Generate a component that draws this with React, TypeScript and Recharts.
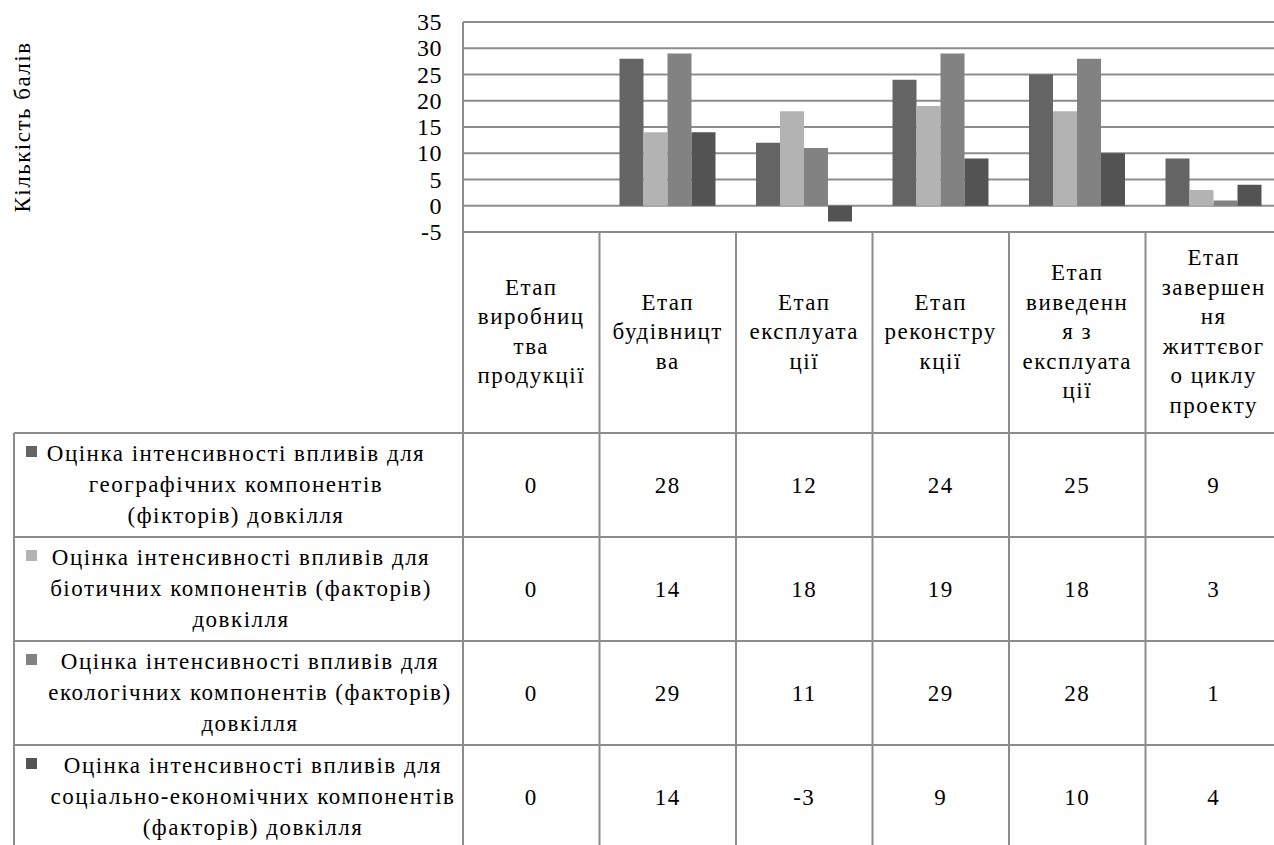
import { BarChart, Bar, XAxis, YAxis, CartesianGrid } from "recharts";

const categories = [
  "Етап виробництва продукції",
  "Етап будівництва",
  "Етап експлуатації",
  "Етап реконструкції",
  "Етап виведення з експлуатації",
  "Етап завершення життєвого циклу проекту",
];

// category names as they wrap in the table header
const categoryLines = [
  ["Етап", "виробниц", "тва", "продукції"],
  ["Етап", "будівницт", "ва"],
  ["Етап", "експлуата", "ції"],
  ["Етап", "реконстру", "кції"],
  ["Етап", "виведенн", "я з", "експлуата", "ції"],
  ["Етап", "завершен", "ня", "життєвог", "о циклу", "проекту"],
];

const geographic = [0, 28, 12, 24, 25, 9];
const biotic = [0, 14, 18, 19, 18, 3];
const ecological = [0, 29, 11, 29, 28, 1];
const socioEconomic = [0, 14, -3, 9, 10, 4];

const seriesKeys = ["geographic", "biotic", "ecological", "socio"];
const seriesValues = [geographic, biotic, ecological, socioEconomic];
const seriesColors = ["#646464", "#b3b3b3", "#828282", "#535353"];
const seriesLines = [
  ["Оцінка інтенсивності впливів для", "географічних компонентів", "(фікторів) довкілля"],
  ["Оцінка інтенсивності впливів для", "біотичних компонентів (факторів)", "довкілля"],
  ["Оцінка інтенсивності впливів для", "екологічних компонентів (факторів)", "довкілля"],
  ["Оцінка інтенсивності впливів для", "соціально-економічних компонентів", "(факторів) довкілля"],
];

const yTicks = [-5, 0, 5, 10, 15, 20, 25, 30, 35];

const data = categories.map((name, i) => ({
  name,
  geographic: geographic[i],
  biotic: biotic[i],
  ecological: ecological[i],
  socio: socioEconomic[i],
}));

const FONT = "Liberation Serif";
const txt = { fontFamily: FONT, fontSize: 23, letterSpacing: 1.5 };
const LINE = "#8c8c8c";
const CHART_W = 1290;
const AXIS_W = 463;
const MARGIN_R = 8;
const COL_W = (CHART_W - AXIS_W - MARGIN_R) / categories.length;
const HEADER_H = 201;
const ROW_H = 104;
const TABLE_LEFT = 14;
const rowCenters = [236, 241, 250, 253];

function TableColumn(props: any) {
  const { x, y, index } = props;
  const left = x - COL_W / 2;
  const lines = categoryLines[index] || [];
  const headerMid = y + HEADER_H / 2 - 1;
  const lh = 29.5;
  const rowsTop = y + HEADER_H;

  return (
    <g>
      <line x1={left} x2={left} y1={y} y2={y + 700} stroke={LINE} strokeWidth={2} />
      {index === categories.length - 1 && (
        <line x1={left + COL_W} x2={left + COL_W} y1={y} y2={y + 700} stroke={LINE} strokeWidth={2} />
      )}
      {lines.map((t, k) => (
        <text
          key={k}
          x={x}
          y={headerMid + (k - (lines.length - 1) / 2) * lh}
          textAnchor="middle"
          dominantBaseline="central"
          style={txt}
          fill="#000"
        >
          {t}
        </text>
      ))}
      {seriesValues.map((vals, r) => (
        <g key={r}>
          <line
            x1={left}
            x2={left + COL_W}
            y1={rowsTop + r * ROW_H}
            y2={rowsTop + r * ROW_H}
            stroke={LINE}
            strokeWidth={2}
          />
          <text
            x={x}
            y={rowsTop + r * ROW_H + ROW_H / 2}
            textAnchor="middle"
            dominantBaseline="central"
            style={txt}
            fill="#000"
          >
            {vals[index]}
          </text>
        </g>
      ))}
      {index === 0 && (
        <g>
          <line x1={TABLE_LEFT} x2={TABLE_LEFT} y1={rowsTop} y2={rowsTop + 500} stroke={LINE} strokeWidth={2} />
          {seriesLines.map((ls, r) => {
            const top = rowsTop + r * ROW_H;
            const mid = top + ROW_H / 2 - 1;
            const gap = 31;
            return (
              <g key={r}>
                <line x1={TABLE_LEFT} x2={left} y1={top} y2={top} stroke={LINE} strokeWidth={2} />
                <rect x={26} y={mid - gap - 7} width={11} height={11} fill={seriesColors[r]} />
                {ls.map((t, k) => (
                  <text
                    key={k}
                    x={rowCenters[r]}
                    y={mid + (k - 1) * gap}
                    textAnchor="middle"
                    dominantBaseline="central"
                    style={txt}
                    fill="#000"
                  >
                    {t}
                  </text>
                ))}
              </g>
            );
          })}
        </g>
      )}
    </g>
  );
}

function AxisTitle() {
  return (
    <text
      x={22}
      y={127}
      transform="rotate(-90 22 127)"
      textAnchor="middle"
      dominantBaseline="central"
      style={txt}
      fill="#000"
    >
      Кількість балів
    </text>
  );
}

function YTick(props: any) {
  const { x, y, payload } = props;
  return (
    <text
      x={x}
      y={y}
      textAnchor="end"
      dominantBaseline="central"
      style={{ fontFamily: FONT, fontSize: 24, letterSpacing: 0.5 }}
      fill="#000"
    >
      {payload.value}
    </text>
  );
}

export default function App() {
  return (
    <div
      style={{
        position: "absolute",
        left: 0,
        top: 0,
        width: 1274,
        height: 845,
        overflow: "hidden",
        background: "#fff",
      }}
    >
      <BarChart
        width={CHART_W}
        height={860}
        data={data}
        margin={{ top: 22, right: MARGIN_R, left: 0, bottom: 0 }}
        barCategoryGap={20}
        barGap={0}
      >
        <CartesianGrid vertical={false} stroke={LINE} strokeWidth={2} />
        <XAxis
          dataKey="name"
          height={628}
          axisLine={false}
          tickLine={false}
          tickSize={0}
          tickMargin={0}
          interval={0}
          tick={<TableColumn />}
        />
        <YAxis
          width={AXIS_W}
          domain={[-5, 35]}
          ticks={yTicks}
          interval={0}
          axisLine={{ stroke: LINE, strokeWidth: 2 }}
          tickLine={false}
          tickSize={0}
          tickMargin={21}
          tick={<YTick />}
          label={<AxisTitle />}
        />
        {seriesKeys.map((k, i) => (
          <Bar key={k} dataKey={k} fill={seriesColors[i]} isAnimationActive={false} />
        ))}
      </BarChart>
    </div>
  );
}
